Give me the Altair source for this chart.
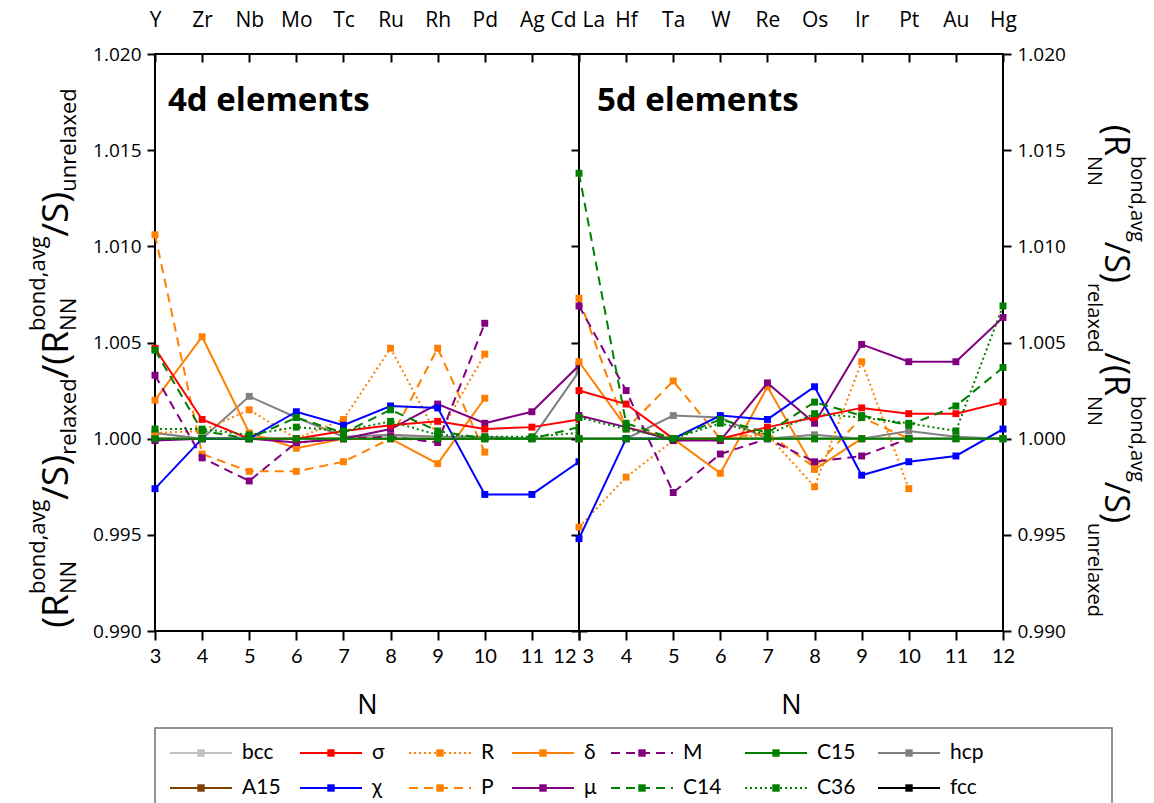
import altair as alt
import pandas as pd

# ---------------- data ----------------
N_VALUES = [3, 4, 5, 6, 7, 8, 9, 10, 11, 12]
ELEMENTS_4D = ["Y", "Zr", "Nb", "Mo", "Tc", "Ru", "Rh", "Pd", "Ag", "Cd"]
ELEMENTS_5D = ["La", "Hf", "Ta", "W", "Re", "Os", "Ir", "Pt", "Au", "Hg"]
Y_TICKS = [0.990, 0.995, 1.000, 1.005, 1.010, 1.015, 1.020]

# 4d elements panel
BCC_4D = [1.0003, 1.0000, 1.0001, 1.0000, 1.0000, 1.0001, 1.0001, 1.0000, 1.0000, 1.0000]
HCP_4D = [1.0003, 1.0000, 1.0022, 1.0011, 1.0001, 1.0002, 1.0001, 1.0001, 1.0000, 1.0035]
SIGMA_4D = [1.0047, 1.0010, 1.0000, 1.0000, 1.0004, 1.0007, 1.0009, 1.0005, 1.0006, 1.0010]
R_4D = [1.0003, 1.0004, 1.0015, 1.0000, 1.0010, 1.0047, 1.0001, 1.0044, None, None]
DELTA_4D = [1.0020, 1.0053, 1.0003, 0.9995, 1.0000, 1.0000, 0.9987, 1.0021, None, None]
M_4D = [1.0033, 0.9990, 0.9978, 0.9998, 1.0000, 1.0001, 0.9998, 1.0060, None, None]
C15_4D = [1.0000] * 10
A15_4D = [1.0000] * 10
CHI_4D = [0.9974, 1.0000, 1.0000, 1.0014, 1.0007, 1.0017, 1.0016, 0.9971, 0.9971, 0.9988]
P_4D = [1.0106, 0.9992, 0.9983, 0.9983, 0.9988, 1.0000, 1.0047, 0.9993, None, None]
MU_4D = [0.9999, 1.0000, 1.0000, 0.9998, 1.0000, 1.0005, 1.0018, 1.0008, 1.0014, 1.0038]
C14_4D = [1.0046, 1.0004, 1.0000, 1.0011, 1.0003, 1.0015, 1.0004, 1.0000, 1.0000, 1.0006]
C36_4D = [1.0005, 1.0005, 1.0002, 1.0006, 1.0004, 1.0009, 1.0002, 1.0001, 1.0001, 1.0003]
FCC_4D = [1.0000] * 10

# 5d elements panel
BCC_5D = [1.0000, 1.0000, 1.0000, 1.0000, 1.0000, 1.0000, 1.0000, 1.0000, 1.0000, 1.0000]
HCP_5D = [1.0000, 1.0000, 1.0012, 1.0011, 1.0000, 1.0002, 1.0000, 1.0004, 1.0001, 1.0000]
SIGMA_5D = [1.0025, 1.0018, 1.0000, 1.0000, 1.0006, 1.0011, 1.0016, 1.0013, 1.0013, 1.0019]
R_5D = [0.9954, 0.9980, 0.9999, 1.0000, 1.0002, 0.9975, 1.0040, 0.9974, None, None]
DELTA_5D = [1.0040, 1.0006, 1.0000, 0.9982, 1.0027, 0.9984, 1.0000, None, None, None]
M_5D = [1.0069, 1.0025, 0.9972, 0.9992, 1.0000, 0.9988, 0.9991, 1.0000, None, None]
C15_5D = [1.0000] * 10
A15_5D = [1.0000] * 10
CHI_5D = [0.9948, 1.0000, 1.0000, 1.0012, 1.0010, 1.0027, 0.9981, 0.9988, 0.9991, 1.0005]
P_5D = [1.0073, 1.0005, 1.0030, 1.0000, 1.0003, 0.9985, 1.0011, 1.0000, None, None]
MU_5D = [1.0012, 1.0006, 0.9999, 0.9999, 1.0029, 1.0008, 1.0049, 1.0040, 1.0040, 1.0063]
C14_5D = [1.0138, 1.0008, 1.0000, 1.0010, 1.0003, 1.0019, 1.0012, 1.0007, 1.0017, 1.0037]
C36_5D = [1.0011, 1.0005, 1.0000, 1.0008, 1.0002, 1.0013, 1.0011, 1.0008, 1.0004, 1.0069]
FCC_5D = [1.0000] * 10

LEGEND_ORDER = ["bcc", "σ", "R", "δ", "M", "C15", "hcp",
                "A15", "χ", "P", "μ", "C14", "C36", "fcc"]
DRAW_ORDER = ["fcc", "A15", "bcc", "hcp", "R", "P", "δ", "M",
              "μ", "σ", "χ", "C36", "C14", "C15"]

SERIES_4D = {"bcc": BCC_4D, "σ": SIGMA_4D, "R": R_4D, "δ": DELTA_4D, "M": M_4D,
             "C15": C15_4D, "hcp": HCP_4D, "A15": A15_4D, "χ": CHI_4D, "P": P_4D,
             "μ": MU_4D, "C14": C14_4D, "C36": C36_4D, "fcc": FCC_4D}
SERIES_5D = {"bcc": BCC_5D, "σ": SIGMA_5D, "R": R_5D, "δ": DELTA_5D, "M": M_5D,
             "C15": C15_5D, "hcp": HCP_5D, "A15": A15_5D, "χ": CHI_5D, "P": P_5D,
             "μ": MU_5D, "C14": C14_5D, "C36": C36_5D, "fcc": FCC_5D}

# ---------------- style ----------------
COLORS = {"bcc": "#c0c0c0", "σ": "#ff0000", "R": "#ff8000", "δ": "#ff8000",
          "M": "#800080", "C15": "#008000", "hcp": "#808080", "A15": "#804000",
          "χ": "#0000ff", "P": "#ff8000", "μ": "#800080", "C14": "#008000",
          "C36": "#008000", "fcc": "#000000"}
DASHES = {"R": [2, 3], "M": [9, 6], "P": [9, 6], "C14": [9, 6], "C36": [2, 3]}
SOLID = [1, 0]

FONT = "Open Sans"
FONT_NUM = "Lato"
PANEL_W, PANEL_H = 424, 577


def long_frame(series_map):
    rows = []
    for name, vals in series_map.items():
        for n, v in zip(N_VALUES, vals):
            if v is not None:
                rows.append({"series": name, "N": n, "value": v})
    return pd.DataFrame(rows)


DF_4D = long_frame(SERIES_4D)
DF_5D = long_frame(SERIES_5D)

XS = alt.Scale(domain=[3, 12], nice=False, zero=False)
YS = alt.Scale(domain=[0.990, 1.020], nice=False, zero=False)

# rich-text axis title pieces: (text, role)
TITLE_PIECES = [("(R", "main"), ("NN", "sub"), ("bond,avg", "sup"), ("/S)", "main"),
                ("relaxed", "sub"), ("/(R", "main"), ("NN", "sub"), ("bond,avg", "sup"),
                ("/S)", "main"), ("unrelaxed", "sub")]
CW = {"(": 0.296, ")": 0.296, "R": 0.618, "/": 0.367, "S": 0.549, "N": 0.753,
      "b": 0.613, "o": 0.601, "n": 0.613, "d": 0.613, ",": 0.245, "a": 0.556,
      "v": 0.5, "g": 0.546, "r": 0.408, "e": 0.561, "l": 0.258, "x": 0.524, "u": 0.613}


def text_width(t, fs):
    return sum(CW.get(c, 0.55) for c in t) * fs


def title_layers(direction, center_y, base_x, sub_dx, sup_dx, main_fs, small_fs):
    offs = []
    pos = 0.0
    i = 0
    while i < len(TITLE_PIECES):
        t, role = TITLE_PIECES[i]
        if role == "sub" and i + 1 < len(TITLE_PIECES) and TITLE_PIECES[i + 1][1] == "sup":
            t2 = TITLE_PIECES[i + 1][0]
            offs.append((t, role, pos))
            offs.append((t2, "sup", pos))
            pos += max(text_width(t, small_fs), text_width(t2, small_fs))
            i += 2
            continue
        fs = main_fs if role == "main" else small_fs
        offs.append((t, role, pos))
        pos += text_width(t, fs)
        i += 1
    total = pos
    layers = []
    for t, role, p in offs:
        fs = main_fs if role == "main" else small_fs
        x = base_x + (sub_dx if role == "sub" else sup_dx if role == "sup" else 0)
        if direction == "up":
            y = center_y + total / 2 - p
            ang = 270
        else:
            y = center_y - total / 2 + p
            ang = 90
        layers.append(
            alt.Chart(pd.DataFrame({"t": [t]})).mark_text(
                angle=ang, align="left", baseline="alphabetic", font=FONT,
                fontSize=fs, color="black"
            ).encode(text="t:N", x=alt.value(x), y=alt.value(y))
        )
    return layers


def panel(df, elements, side, heading):
    if side == "left":
        edge_align = {"condition": {"test": "datum.value == 12", "value": "right"}, "value": "center"}
        edge_off = {"condition": {"test": "datum.value == 12", "value": -3}, "value": 0}
    else:
        edge_align = {"condition": {"test": "datum.value == 3", "value": "left"}, "value": "center"}
        edge_off = {"condition": {"test": "datum.value == 3", "value": 3}, "value": 0}

    bottom_axis = alt.Axis(
        orient="bottom", values=N_VALUES, format="d", domain=False, grid=False,
        tickSize=9, tickWidth=2, tickColor="black", labelFont=FONT_NUM,
        labelFontSize=20, labelColor="black", labelPadding=6, labelAlign=edge_align,
        labelOffset=edge_off,
        labelFlush=False, labelOverlap=False, labelBaseline="top",
        title="N", titleFont=FONT, titleFontSize=27, titleFontWeight="normal",
        titleColor="black", titlePadding=26)
    labels_expr = "[" + ",".join("'" + e + "'" for e in elements) + "][datum.value - 3]"
    top_axis = alt.Axis(
        orient="top", values=N_VALUES, labelExpr=labels_expr, domain=False, grid=False,
        offset=-8, tickSize=8, tickWidth=2, tickColor="black", labelFont=FONT,
        labelFontSize=21, labelColor="black", labelPadding=24, labelAlign=edge_align,
        labelOffset=edge_off,
        labelFlush=False, labelOverlap=False, title=None)
    label_y = alt.Axis(
        orient=side, values=Y_TICKS, format=".3f", domain=False, grid=False,
        tickSize=8, tickWidth=2, tickColor="black", labelFont=FONT,
        labelFontSize=19, labelColor="black", labelPadding=6,
        labelFlush=False, labelOverlap=False, title=None)
    other = "right" if side == "left" else "left"
    plain_y = alt.Axis(
        orient=other, values=Y_TICKS, domain=False, grid=False, labels=False,
        tickSize=8, tickWidth=2, tickColor="black", title=None)

    layers = []
    first = True
    for s in DRAW_ORDER:
        d = df[df.series == s]
        enc = dict(
            x=alt.X("N:Q", scale=XS, axis=bottom_axis if first else None),
            y=alt.Y("value:Q", scale=YS, axis=label_y if first else None),
        )
        first = False
        base = alt.Chart(d).encode(**enc)
        line_kwargs = dict(color=COLORS[s], strokeWidth=2)
        if s in DASHES:
            line_kwargs["strokeDash"] = DASHES[s]
        layers.append(base.mark_line(**line_kwargs))
        layers.append(
            alt.Chart(d).mark_square(size=48, color=COLORS[s], opacity=1, filled=True)
            .encode(x=alt.X("N:Q", scale=XS, axis=None), y=alt.Y("value:Q", scale=YS, axis=None))
        )

    axis_df = pd.DataFrame({"N": N_VALUES, "value": [1.0] * len(N_VALUES)})
    layers.append(
        alt.Chart(axis_df).mark_point(opacity=0).encode(
            x=alt.X("N:Q", scale=XS, axis=top_axis),
            y=alt.Y("value:Q", scale=YS, axis=plain_y),
        )
    )
    layers.append(
        alt.Chart(pd.DataFrame({"t": [heading]})).mark_text(
            align="left", baseline="middle", font=FONT, fontSize=33,
            fontWeight="bold", color="black"
        ).encode(text="t:N", x=alt.value(13 if side == "left" else 18), y=alt.value(47))
    )
    if side == "left":
        layers += title_layers("up", 304, -87, 8, -23, 37, 22)
    else:
        layers += title_layers("down", 317, 526, -17, 26, 34, 20)

    return alt.layer(*layers).resolve_axis(x="independent", y="independent").properties(
        width=PANEL_W, height=PANEL_H,
        view=alt.ViewBackground(stroke="black", strokeWidth=2, fill="white"),
    )


left = panel(DF_4D, ELEMENTS_4D, "left", "4d elements")
right = panel(DF_5D, ELEMENTS_5D, "right", "5d elements")

# ---------------- legend ----------------
LEG = pd.DataFrame({
    "series": LEGEND_ORDER,
    "col": [i % 7 for i in range(len(LEGEND_ORDER))],
    "row": [i // 7 for i in range(len(LEGEND_ORDER))],
})
LX = alt.Scale(domain=[0, 1, 2, 3, 4, 5, 6], range=[15, 145, 254, 357, 456, 590, 723],
               nice=False, zero=False)
LY = alt.Scale(domain=[0, 1], range=[25, 60], nice=False, zero=False)
CSCALE = alt.Scale(domain=LEGEND_ORDER, range=[COLORS[s] for s in LEGEND_ORDER])
DSCALE = alt.Scale(domain=LEGEND_ORDER, range=[DASHES.get(s, SOLID) for s in LEGEND_ORDER])

leg_base = alt.Chart(LEG).encode(
    x=alt.X("col:Q", scale=LX, axis=None),
    y=alt.Y("row:Q", scale=LY, axis=None),
)
leg_lines = leg_base.mark_rule(strokeWidth=2, x2Offset=62).encode(
    x2="col:Q",
    color=alt.Color("series:N", scale=CSCALE, legend=None),
    strokeDash=alt.StrokeDash("series:N", scale=DSCALE, legend=None),
)
leg_pts = leg_base.mark_square(size=55, opacity=1, filled=True, xOffset=31).encode(
    color=alt.Color("series:N", scale=CSCALE, legend=None),
)
leg_text = leg_base.mark_text(align="left", baseline="middle", dx=72, font=FONT_NUM,
                              fontSize=21, color="black").encode(text="series:N")
legend = alt.layer(leg_lines, leg_pts, leg_text).properties(
    width=957, height=80,
    view=alt.ViewBackground(stroke="#707070", strokeWidth=1.5, fill="white"),
)

chart = alt.vconcat(
    alt.hconcat(left, right, spacing=0, bounds="flush"),
    legend, spacing=8, bounds="full",
).properties(
    padding={"left": 26, "top": 8, "right": 5, "bottom": 0},
    background="white",
)

chart.save("out.html", embed_options={"renderer": "svg", "actions": False})
